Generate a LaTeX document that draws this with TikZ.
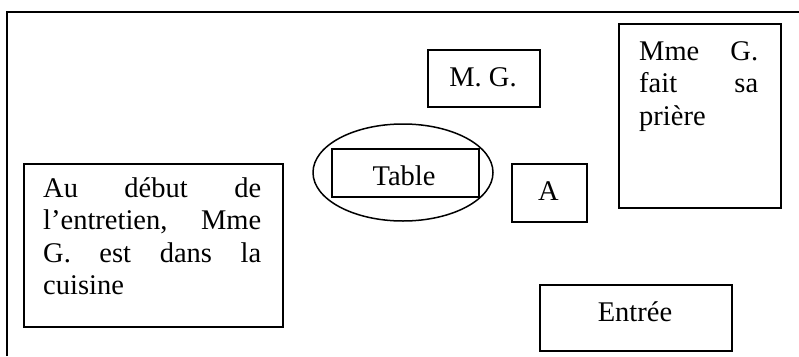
\documentclass[tikz,border=0pt]{standalone}
\usepackage{fontspec}
\setmainfont{Liberation Serif}
\usetikzlibrary{shapes.geometric}
\begin{document}
\begin{tikzpicture}[x=1pt,y=-1pt,
  box/.style={draw, line width=1.7pt, inner sep=0pt, anchor=north west},
  lbl/.style={inner sep=0pt, font=\fontsize{28.5}{32.5}\selectfont},
  zone/.style={draw, ellipse, line width=1.5pt, inner sep=0pt}
]
\useasboundingbox (0,0) rectangle (799,356);
% outer frame (cut off)
\draw[line width=2pt] (7,356) -- (7,12) -- (799,12);

% table zone
\node[zone, minimum width=180pt, minimum height=97pt] (zone) at (403,172.5) {};
\node[box, minimum width=147pt, minimum height=48pt] (table) at (331,148) {};
\node[lbl, anchor=base] (tablet) at (404,185) {Table};

% M. G.
\node[box, minimum width=112pt, minimum height=57pt] (mg) at (427,49) {};
\node[lbl, anchor=base] (mgt) at (483,86) {M. G.};

% A
\node[box, minimum width=75pt, minimum height=58pt] (a) at (511,163) {};
\node[lbl, anchor=base] (at) at (548.5,200) {A};

% Entree
\node[box, minimum width=192pt, minimum height=66pt] (entree) at (539,284) {};
\node[lbl, anchor=base] (entreet) at (635,321) {Entrée};

% Mme G. fait sa priere
\node[box, minimum width=162pt, minimum height=184pt] (priere) at (618,23) {};
\node[lbl, anchor=base west] (p1) at (639,60) {\makebox[119pt][s]{Mme G.}};
\node[lbl, anchor=base west] (p2) at (639,92.5) {\makebox[119pt][s]{fait sa}};
\node[lbl, anchor=base west] (p3) at (639,125) {prière};

% Au debut de l'entretien
\node[box, minimum width=259pt, minimum height=163pt] (cuisine) at (23,163) {};
\node[lbl, anchor=base west] (c1) at (43,197) {\makebox[218pt][s]{Au début de}};
\node[lbl, anchor=base west] (c2) at (43,229.5) {\makebox[218pt][s]{l’entretien, Mme}};
\node[lbl, anchor=base west] (c3) at (43,262) {\makebox[218pt][s]{G. est dans la}};
\node[lbl, anchor=base west] (c4) at (43,294.5) {cuisine};
\end{tikzpicture}
\end{document}
